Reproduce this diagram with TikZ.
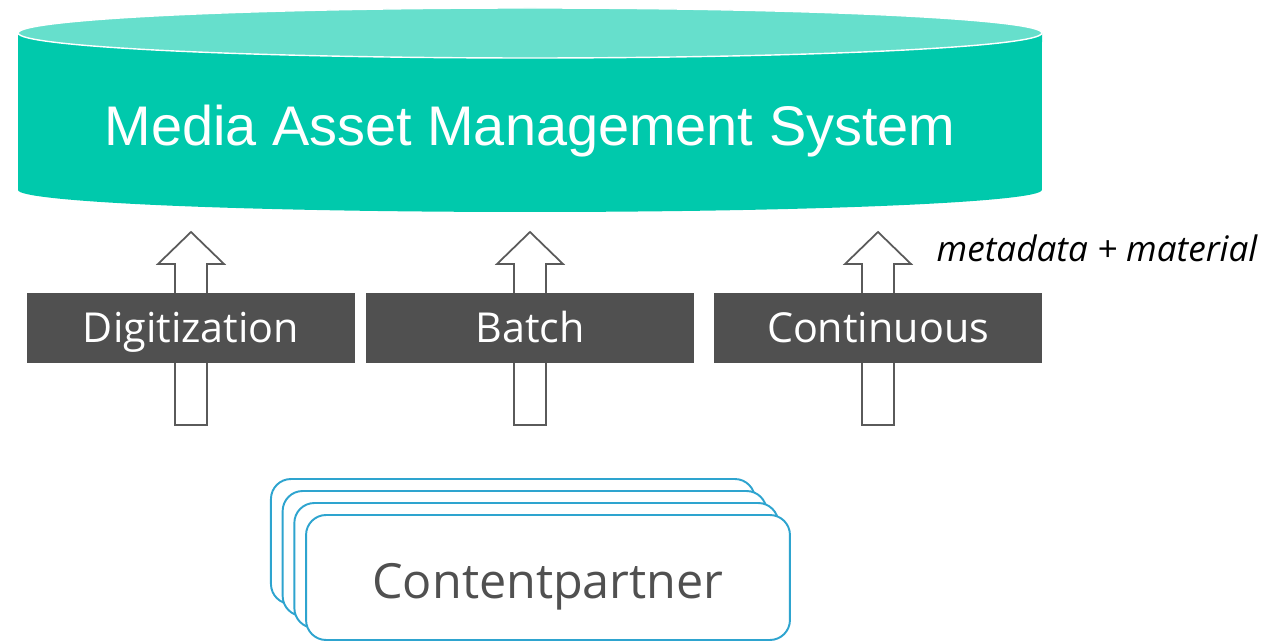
\documentclass[tikz,border=0pt]{standalone}
\usepackage{fontspec}
\setmainfont{Open Sans}
\newfontfamily\titlefont{Liberation Sans}
\usepackage{tikz}
\definecolor{mamteal}{HTML}{00C9AC}
\definecolor{mamtop}{HTML}{66DFCC}
\definecolor{boxgray}{HTML}{505050}
\definecolor{arrowgray}{HTML}{5A5A5A}
\definecolor{partnerblue}{HTML}{2EA4CF}
\begin{document}
\begin{tikzpicture}[x=0.02cm,y=-0.02cm,
    ingest/.style={fill=boxgray,text=white,minimum width=6.56cm,minimum height=1.4cm,inner sep=0pt,text height=20pt,text depth=3pt,font=\fontsize{23.5}{27}\selectfont},
    blockarrow/.style={draw=arrowgray,fill=white,line width=1pt,line join=miter},
    partner/.style={draw=partnerblue,fill=white,line width=1.1pt,rounded corners=0.4cm,minimum width=9.68cm,minimum height=2.5cm,inner sep=0pt}]
        \useasboundingbox (0,0) rectangle (1268,641);
        % cylinder
        \fill[mamteal] (18,33) -- (18,190) arc[start angle=180,end angle=360,x radius=10.24cm,y radius=0.44cm] -- (1042,33) -- cycle;
        \draw[fill=mamtop,draw=white,line width=0.8pt] (530,33) ellipse [x radius=10.24cm,y radius=0.5cm];
        \node[anchor=base,text=white,font=\titlefont\fontsize{31.8}{36}\selectfont] (mams) at (530,146) {Media Asset Management System};
        % arrows
        \foreach \x in {191,530,878}
            \draw[blockarrow] (\x-16,425) -- (\x-16,264) -- (\x-33,264) -- (\x,232) -- (\x+33,264) -- (\x+16,264) -- (\x+16,425) -- cycle;
        % ingest boxes
        \node[ingest] (digitization) at (191,328) {Digitization};
        \node[ingest] (batch) at (530,328) {Batch};
        \node[ingest] (continuous) at (878,328) {Continuous};
        \node[anchor=base,font=\fontsize{20}{24}\selectfont\itshape] (meta) at (1097,262) {metadata + material};
        % content partners
        \foreach \i in {3,2,1}
            \node[partner] (cp\i) at (548-11.7*\i,577.5-12*\i) {};
        \node[partner,text=boxgray,text height=27pt,text depth=3.6pt,font=\fontsize{27.6}{32}\selectfont] (contentpartner) at (548,577.5) {Contentpartner};
    \end{tikzpicture}
\end{document}
